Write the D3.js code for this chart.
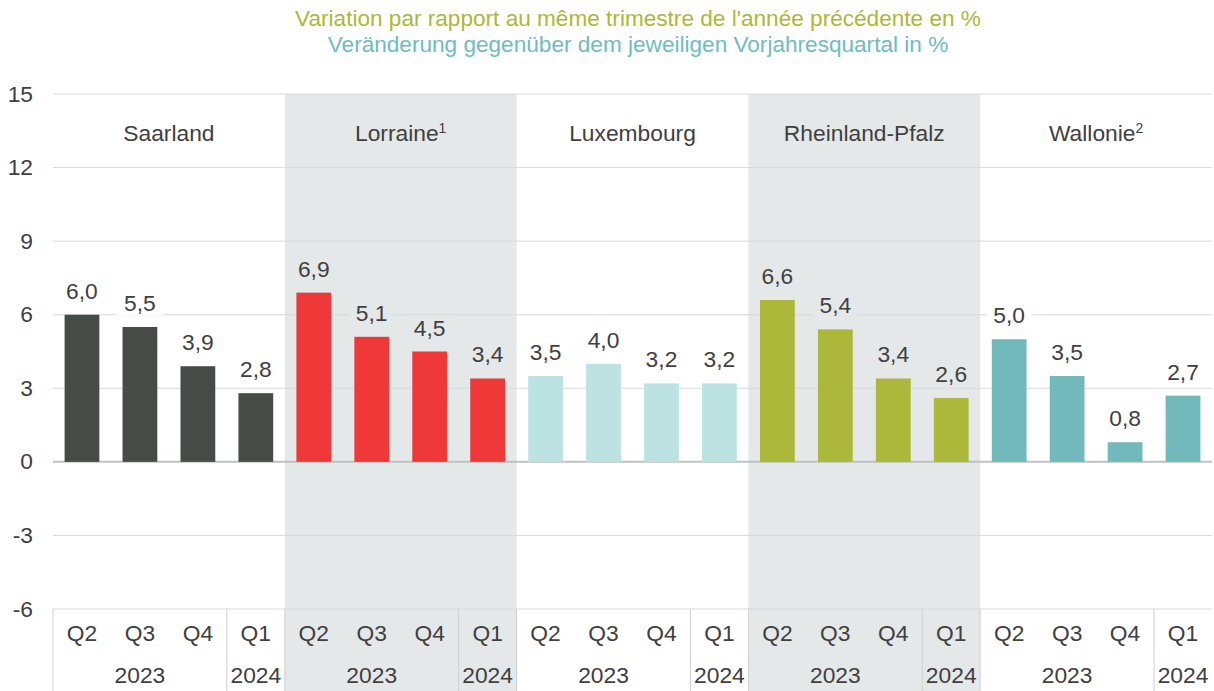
<!DOCTYPE html>
<html>
<head>
  <meta charset="UTF-8">
  <style>
    body { margin: 0; background: #fff; }
    svg { display: block; font-family: "Liberation Sans", Arial, sans-serif; }
  </style>
</head>
<body>
<svg></svg>
<script src="https://d3js.org/d3.v7.min.js"></script>
<script>
const width = 1214, height = 691;

// data
const regions = ["Saarland", "Lorraine", "Luxembourg", "Rheinland-Pfalz", "Wallonie"];
const footnotes = ["", "1", "", "", "2"];
const quarters = ["Q2", "Q3", "Q4", "Q1"];
const years = ["2023", "2024"];
const saarland = [6.0, 5.5, 3.9, 2.8];
const lorraine = [6.9, 5.1, 4.5, 3.4];
const luxembourg = [3.5, 4.0, 3.2, 3.2];
const rheinlandPfalz = [6.6, 5.4, 3.4, 2.6];
const wallonie = [5.0, 3.5, 0.8, 2.7];
const yTicks = [15, 12, 9, 6, 3, 0, -3, -6];
const titleFr = "Variation par rapport au même trimestre de l'année précédente en %";
const titleDe = "Veränderung gegenüber dem jeweiligen Vorjahresquartal in %";

const series = [saarland, lorraine, luxembourg, rheinlandPfalz, wallonie];
const colors = ["#464b47", "#ef3939", "#bce2e2", "#abb83a", "#72b9bc"];
const shaded = [false, true, false, true, false];
const shadeColor = "#e4e8e8";
const textColor = "#404040";
const fs = "22.8px";

const plotLeft = 53, plotRight = 1212, plotTop = 94, plotBottom = 609;

const svg = d3.select("svg")
    .attr("width", width)
    .attr("height", height);

const x = d3.scaleBand().domain(regions).range([plotLeft, plotRight]).padding(0);
const xq = d3.scaleBand().domain(quarters).range([0, x.bandwidth()])
    .paddingInner(0.4).paddingOuter(0.2);
const slot = x.bandwidth() / quarters.length;
const y = d3.scaleLinear().domain([-6, 15]).range([plotBottom, plotTop]);

// titles
svg.append("text")
    .attr("x", 638).attr("y", 26)
    .attr("text-anchor", "middle")
    .style("font-size", "22.6px").attr("fill", "#abb83a")
    .text(titleFr);
svg.append("text")
    .attr("x", 638).attr("y", 52)
    .attr("text-anchor", "middle")
    .style("font-size", "22.6px").attr("fill", "#6fbcbf")
    .text(titleDe);

// shaded region bands
svg.append("g").selectAll("rect")
    .data(regions.filter((r, i) => shaded[i]))
    .join("rect")
    .attr("x", d => x(d))
    .attr("y", plotTop)
    .attr("width", x.bandwidth())
    .attr("height", height - plotTop)
    .attr("fill", shadeColor);

// gridlines
svg.append("g").selectAll("line")
    .data(yTicks)
    .join("line")
    .attr("x1", plotLeft).attr("x2", plotRight)
    .attr("y1", d => y(d)).attr("y2", d => y(d))
    .attr("stroke", d => d === 0 ? "#c0c2c2" : "#d9d9d9")
    .attr("stroke-width", d => d === 0 ? 2 : 1);

// y tick labels
svg.append("g").selectAll("text")
    .data(yTicks)
    .join("text")
    .attr("x", 33)
    .attr("y", d => y(d) + 7.5)
    .attr("text-anchor", "end")
    .style("font-size", fs)
    .attr("fill", textColor)
    .text(d => d);

// bars
const groups = svg.append("g").selectAll("g")
    .data(regions)
    .join("g")
    .attr("transform", d => `translate(${x(d)},0)`);

groups.selectAll("rect")
    .data((d, i) => series[i].map((v, j) => ({ q: quarters[j], v: v, c: colors[i] })))
    .join("rect")
    .attr("x", d => xq(d.q))
    .attr("y", d => y(Math.max(0, d.v)))
    .attr("width", xq.bandwidth())
    .attr("height", d => Math.abs(y(d.v) - y(0)))
    .attr("fill", d => d.c);

// value labels with background box
const fmt = d3.format(".1f");
groups.each(function(r, i) {
    const g = d3.select(this);
    series[i].forEach((v, j) => {
        const cx = xq(quarters[j]) + xq.bandwidth() / 2;
        const box = g.append("rect");
        const t = g.append("text")
            .attr("x", cx)
            .attr("y", y(v) - 16)
            .attr("text-anchor", "middle")
            .style("font-size", fs)
            .attr("fill", textColor)
            .text(fmt(v).replace(".", ","));
        const bb = t.node().getBBox();
        box.attr("x", bb.x - 7).attr("y", bb.y + 1)
            .attr("width", bb.width + 14).attr("height", bb.height - 2)
            .attr("fill", shaded[i] ? shadeColor : "#fff");
    });
    // region label with footnote marker
    const lab = g.append("text")
        .attr("x", x.bandwidth() / 2)
        .attr("y", 141)
        .attr("text-anchor", "middle")
        .style("font-size", fs)
        .attr("fill", textColor)
        .text(r);
    if (footnotes[i]) {
        lab.append("tspan")
            .attr("dy", -8)
            .style("font-size", "14px")
            .text(footnotes[i]);
    }
    // quarter labels
    g.selectAll(".q")
        .data(quarters)
        .join("text")
        .attr("class", "q")
        .attr("x", d => xq(d) + xq.bandwidth() / 2)
        .attr("y", 641)
        .attr("text-anchor", "middle")
        .style("font-size", fs)
        .attr("fill", textColor)
        .text(d => d);
    // year labels
    g.append("text")
        .attr("x", slot * 1.5)
        .attr("y", 683)
        .attr("text-anchor", "middle")
        .style("font-size", fs)
        .attr("fill", textColor)
        .text(years[0]);
    g.append("text")
        .attr("x", slot * 3.5)
        .attr("y", 683)
        .attr("text-anchor", "middle")
        .style("font-size", fs)
        .attr("fill", textColor)
        .text(years[1]);
    // separators in category axis
    g.selectAll(".sep")
        .data([0, 3 * slot])
        .join("line")
        .attr("class", "sep")
        .attr("x1", d => d).attr("x2", d => d)
        .attr("y1", plotBottom).attr("y2", height)
        .attr("stroke", "#d0d0d0")
        .attr("stroke-width", 1);
});
</script>
</body>
</html>
